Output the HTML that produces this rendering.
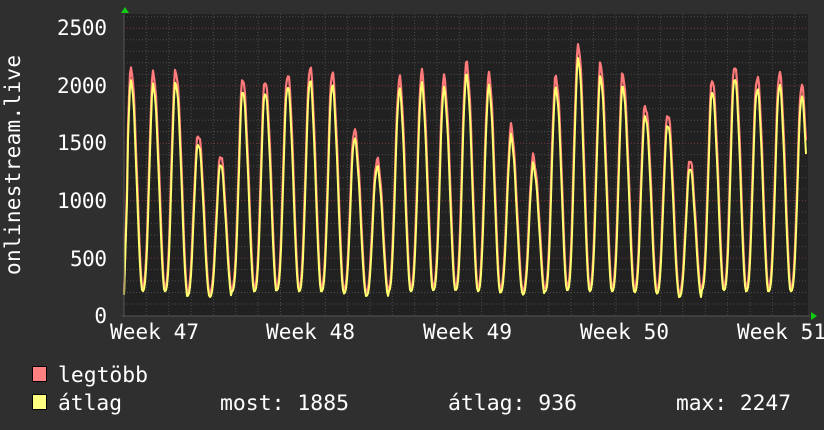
<!DOCTYPE html>
<html><head><meta charset="utf-8"><style>
html,body{margin:0;padding:0;background:#2f2f2f;}
svg{display:block}
text{font-family:"DejaVu Sans Mono","Liberation Mono",monospace;fill:#fff}
</style></head><body>
<svg id="s" width="824" height="430" xmlns="http://www.w3.org/2000/svg">
<rect width="824" height="430" fill="#2f2f2f"/>
<rect x="124" y="14" width="684" height="302" fill="#212121"/>
<g id="grid"></g>
<path id="red" fill="none" stroke="#ff7a7a" stroke-width="2.2" stroke-linejoin="round"/>
<path id="yel" fill="none" stroke="#ffff70" stroke-width="2" stroke-linejoin="round"/>
<line x1="124" y1="14" x2="124" y2="317" stroke="#555" stroke-width="1"/>
<line x1="122" y1="316" x2="810" y2="316" stroke="#555" stroke-width="1"/>
<polygon points="121,13 125,7 129,13" fill="#1c1"/>
<polygon points="811,312 817,316 811,320" fill="#1c1"/>
<g font-size="21">
<text x="107" y="35" text-anchor="end" textLength="50">2500</text>
<text x="107" y="93" text-anchor="end" textLength="50">2000</text>
<text x="107" y="150" text-anchor="end" textLength="50">1500</text>
<text x="107" y="208" text-anchor="end" textLength="50">1000</text>
<text x="107" y="266" text-anchor="end" textLength="37">500</text>
<text x="107" y="323" text-anchor="end" textLength="13">0</text>
<text x="110" y="339" textLength="89">Week 47</text>
<text x="266" y="339" textLength="89">Week 48</text>
<text x="423" y="339" textLength="89">Week 49</text>
<text x="580" y="339" textLength="89">Week 50</text>
<text x="737" y="339" textLength="89">Week 51</text>
<text transform="translate(20,275) rotate(-90)" textLength="220">onlinestream.live</text>
</g>
<rect x="32.5" y="366.5" width="14" height="15" fill="#ff8080" stroke="#000"/>
<rect x="32.5" y="394.5" width="14" height="15" fill="#ffff80" stroke="#000"/>
<g font-size="21">
<text x="58" y="382" textLength="90" lengthAdjust="spacingAndGlyphs">legtöbb</text>
<text x="58" y="410" textLength="64" lengthAdjust="spacingAndGlyphs">átlag</text>
<text x="220" y="410" textLength="129" lengthAdjust="spacingAndGlyphs">most: 1885</text>
<text x="448" y="410" textLength="129" lengthAdjust="spacingAndGlyphs">átlag: 936</text>
<text x="676" y="410" textLength="115" lengthAdjust="spacingAndGlyphs">max: 2247</text>
</g>
</svg>
<script>
var g=document.getElementById('grid'),h='';
function Y(v){return 315.5-v*0.1149;}
for(var v=100;v<2620;v+=100){var y=Y(v).toFixed(1);var maj=v%500==0;
h+='<line x1="124" y1="'+y+'" x2="808" y2="'+y+'" stroke="'+(maj?'#7a3535':'#4a4a4a')+'" stroke-dasharray="1,2"/>';}
var d=156.5/7;
for(var x=124+d*(-3);x<808;x+=d){if(x<125)continue;var xi=x.toFixed(1);
var maj=Math.abs(((x-232)/156.5)-Math.round((x-232)/156.5))<0.02;
h+='<line x1="'+xi+'" y1="14" x2="'+xi+'" y2="316" stroke="'+(maj?'#7a3535':'#4a4a4a')+'" stroke-dasharray="1,2"/>';}
g.innerHTML=h;
var peaks=[2130,2100,2150,1590,1380,2050,2060,2120,2150,2100,1630,1380,2060,2100,2080,2220,2090,1620,1380,2100,2350,2170,2100,1850,1760,1340,2050,2200,2090,2100,2000];
var tr=[250,240,240,200,190,240,240,250,240,240,220,200,240,240,250,250,240,230,210,240,250,240,240,230,220,190,250,250,240,240,240];
var r='',yl='';
for(var x=124;x<=806;x+=1){
 var t=(x-131)/d; var i=Math.round(t); var ph=t-i;
 var ic=Math.max(0,Math.min(peaks.length-1,i));
 var pk=peaks[ic], tv=tr[ic];
 var f; if(ph<0){f=Math.pow(Math.cos(ph*Math.PI),3);} else {f=Math.pow(Math.cos(ph*Math.PI),1.6);}
 var n=Math.sin(x*1.7)*30+Math.sin(x*0.63)*25;
 var rv=tv+(pk-tv)*f+n*f;
 var av=tv-30+(pk*0.95-tv+30)*Math.pow(f,1.1)+n*0.8*f;
 if(x<128){rv=200+(x-124)*300;av=rv*0.9;}
 r+=(x==124?'M':'L')+x+','+Y(rv).toFixed(1);
 yl+=(x==124?'M':'L')+x+','+Y(av).toFixed(1);
}
document.getElementById('red').setAttribute('d',r);
document.getElementById('yel').setAttribute('d',yl);
</script>
</body></html>
